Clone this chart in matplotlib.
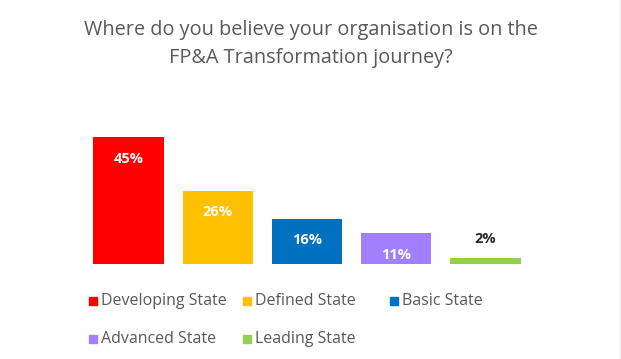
import matplotlib.pyplot as plt
from matplotlib.patches import Rectangle

# data
states = ['Developing State', 'Defined State', 'Basic State', 'Advanced State', 'Leading State']
values = [45, 26, 16, 11, 2]
colors = ['#FF0000', '#FFC000', '#0070C0', '#A080FF', '#92D050']
title = 'Where do you believe your organisation is on the\nFP&A Transformation journey?'

W, H = 621, 359
fig = plt.figure(figsize=(W / 100, H / 100), dpi=100)
plt.rcParams['font.family'] = ['Open Sans', 'DejaVu Sans']

# axes placed in pixel terms: bars from x=84 to 530, baseline y=264
ax = fig.add_axes([84 / W, (H - 264) / H, 446 / W, 141 / H])
x = list(range(len(values)))
bars = ax.bar(x, values, width=0.79, color=colors)
ax.set_xlim(-0.5, 4.5)
ax.set_ylim(0, 50)
ax.axis('off')

for i, v in enumerate(values):
    if v > 5:
        ax.annotate('%d%%' % v, (i, v), xytext=(0, -15.5), textcoords='offset points',
                    ha='center', va='center', color='white', fontsize=10.5, fontweight='bold')
    else:
        ax.annotate('%d%%' % v, (i, v), xytext=(0, 14), textcoords='offset points',
                    ha='center', va='center', color='#262626', fontsize=10.5, fontweight='bold')

fig.text(0.5, 1 - 44 / H, title, ha='center', va='center', fontsize=14.3,
         color='#595959', linespacing=1.6)

# legend, laid out like the Excel one (3 columns, 2 rows)
col_x = [89, 243, 390, 89, 243]
row_y = [301, 301, 301, 339, 339]
for i, s in enumerate(states):
    fig.add_artist(Rectangle((col_x[i] / W, (H - row_y[i] - 4) / H), 8 / W, 8 / H,
                             transform=fig.transFigure, color=colors[i]))
    fig.text((col_x[i] + 12) / W, 1 - row_y[i] / H, s, ha='left', va='center',
             fontsize=11.5, color='#595959')

fig.add_artist(plt.Line2D([619.5 / W, 619.5 / W], [0, 1], transform=fig.transFigure,
                          color='#ececec', lw=1))

plt.savefig('out.png', dpi=100)
